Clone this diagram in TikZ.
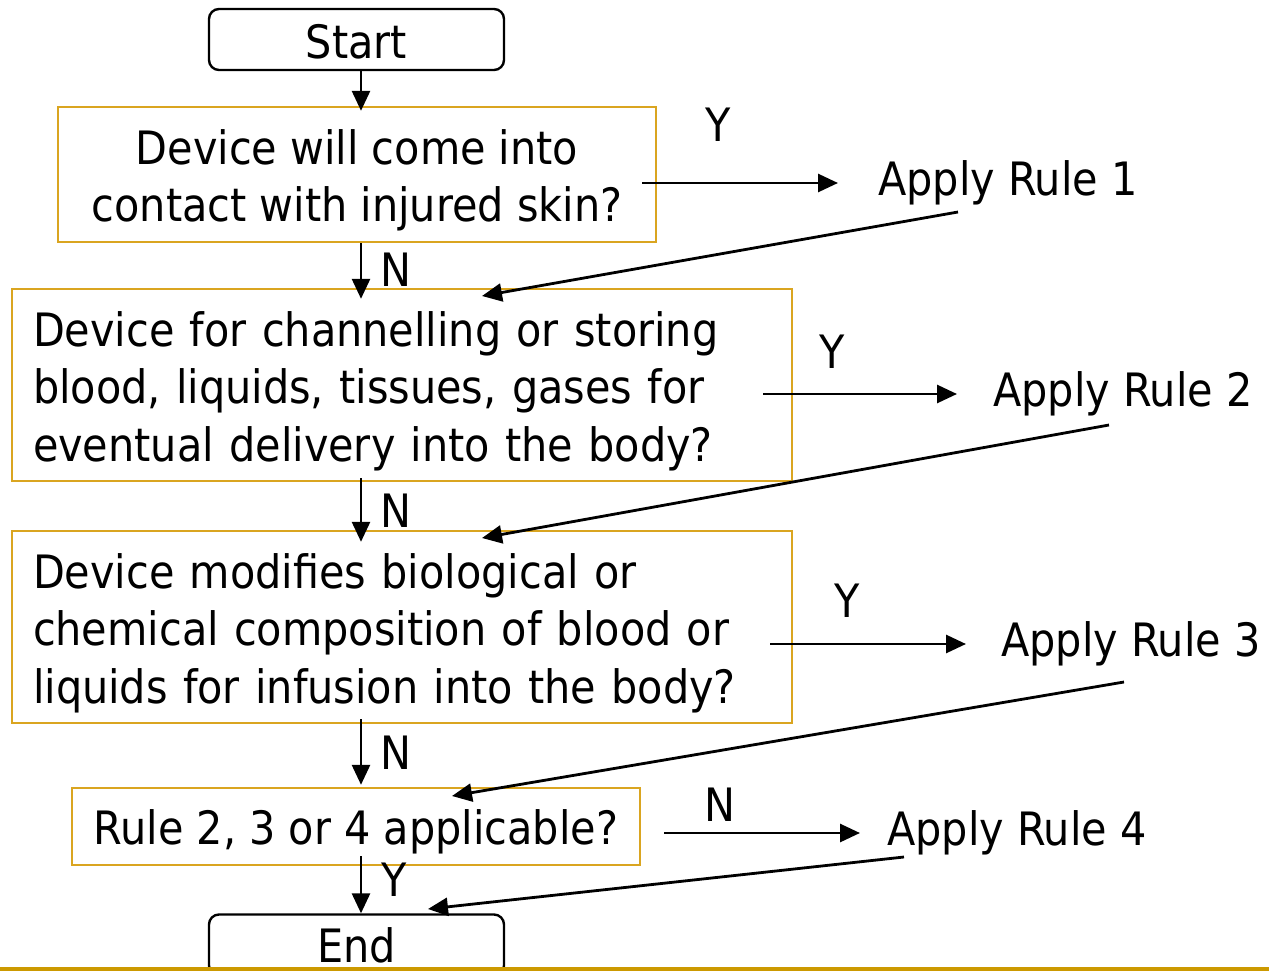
\documentclass[tikz,border=0pt]{standalone}
\usepackage{fontspec}
\setmainfont{DejaVu Sans Condensed}
\usetikzlibrary{arrows.meta}
\definecolor{boxgold}{RGB}{218,165,32}
\definecolor{linegold}{RGB}{204,153,0}
\newcommand{\lowstrut}[1]{\rule{0pt}{#1}}
\begin{document}
\begin{tikzpicture}[x=1pt,y=-1pt,
    every node/.style={font=\fontsize{46}{57.5}\selectfont},
    term/.style={draw,line width=2.4pt,rounded corners=10pt,minimum width=295pt,minimum height=61pt,inner sep=0pt},
    query/.style={draw=boxgold,line width=2.4pt,inner sep=0pt},
    rulebox/.style={anchor=west,inner sep=0pt},
    arr/.style={line width=2.8pt,-{Triangle[length=20pt,width=18pt]}}]
  \useasboundingbox (0,0) rectangle (1269,971);
  % flow column
  \node[term] (start) at (356.5,39.5) {\lowstrut{39pt}Start};
  \node[query,minimum width=598pt,minimum height=135pt,align=center] (q1) at (357,174.5)
    {\lowstrut{47pt}Device will come into\\contact with injured skin?};
  \node[query,minimum width=780pt,minimum height=192pt,text width=738pt,align=left] (q2) at (402,385)
    {\lowstrut{47pt}Device for channelling or storing\\blood, liquids, tissues, gases for\\eventual delivery into the body?};
  \node[query,minimum width=780pt,minimum height=192pt,text width=738pt,align=left] (q3) at (402,627)
    {\lowstrut{47pt}Device modifies biological or\\chemical composition of blood or\\liquids for infusion into the body?};
  \node[query,minimum width=568pt,minimum height=77pt] (q4) at (356,826.5) {\lowstrut{45pt}Rule 2, 3 or 4 applicable?};
  \node[term] (stop) at (356.5,945) {End};
  % rules
  \node[rulebox] (r1) at (878,183) {Apply Rule 1};
  \node[rulebox] (r2) at (993,394) {Apply Rule 2};
  \node[rulebox] (r3) at (1001,644) {Apply Rule 3};
  \node[rulebox] (r4) at (887,833) {Apply Rule 4};
  % answers
  \node (y1) at (718,125) {Y};
  \node (n1) at (396,270) {N};
  \node (y2) at (832,352) {Y};
  \node (n2) at (396,511) {N};
  \node (y3) at (847,601) {Y};
  \node (n3) at (396,753) {N};
  \node (n4) at (720,805) {N};
  \node (y4) at (394,880) {Y};
  \coordinate (axis) at (361,0);
  \draw[arr,shorten >=-5pt] (start.south -| axis) -- (q1.north -| axis);
  \draw[arr,shorten >=-11pt] (q1.south -| axis) -- (q2.north -| axis);
  \draw[arr,shorten <=-4pt,shorten >=-12pt] (q2.south -| axis) -- (q3.north -| axis);
  \draw[arr,shorten <=-5pt,shorten >=2pt] (q3.south -| axis) -- (q4.north -| axis);
  \draw[arr,shorten <=-10pt] (q4.south -| axis) -- (stop.north -| axis);
  \draw[arr,shorten <=-15pt,shorten >=40pt] (r1.west -| q1.east) -- (r1.west);
  \draw[arr,shorten <=-30pt,shorten >=36pt] (r2.west -| q2.east) -- (r2.west);
  \draw[arr,shorten <=-23pt,shorten >=35pt] (r3.west -| q3.east) -- (r3.west);
  \draw[arr,shorten <=23pt,shorten >=27pt] (r4.west -| q4.east) -- (r4.west);
  % back to the column
  \coordinate (b1) at (958,212);
  \coordinate (b2) at (1109,425);
  \coordinate (b3) at (1124,682);
  \coordinate (b4) at (904,857);
  \coordinate (e1) at (482,296);
  \coordinate (e2) at (482,538);
  \coordinate (e3) at (452,796);
  \coordinate (e4) at (428,909);
  \draw[arr] (b1) -- (e1);
  \draw[arr] (b2) -- (e2);
  \draw[arr] (b3) -- (e3);
  \draw[arr] (b4) -- (e4);
  \draw[linegold,line width=4pt] (0,969) -- (1269,969);
\end{tikzpicture}
\end{document}
